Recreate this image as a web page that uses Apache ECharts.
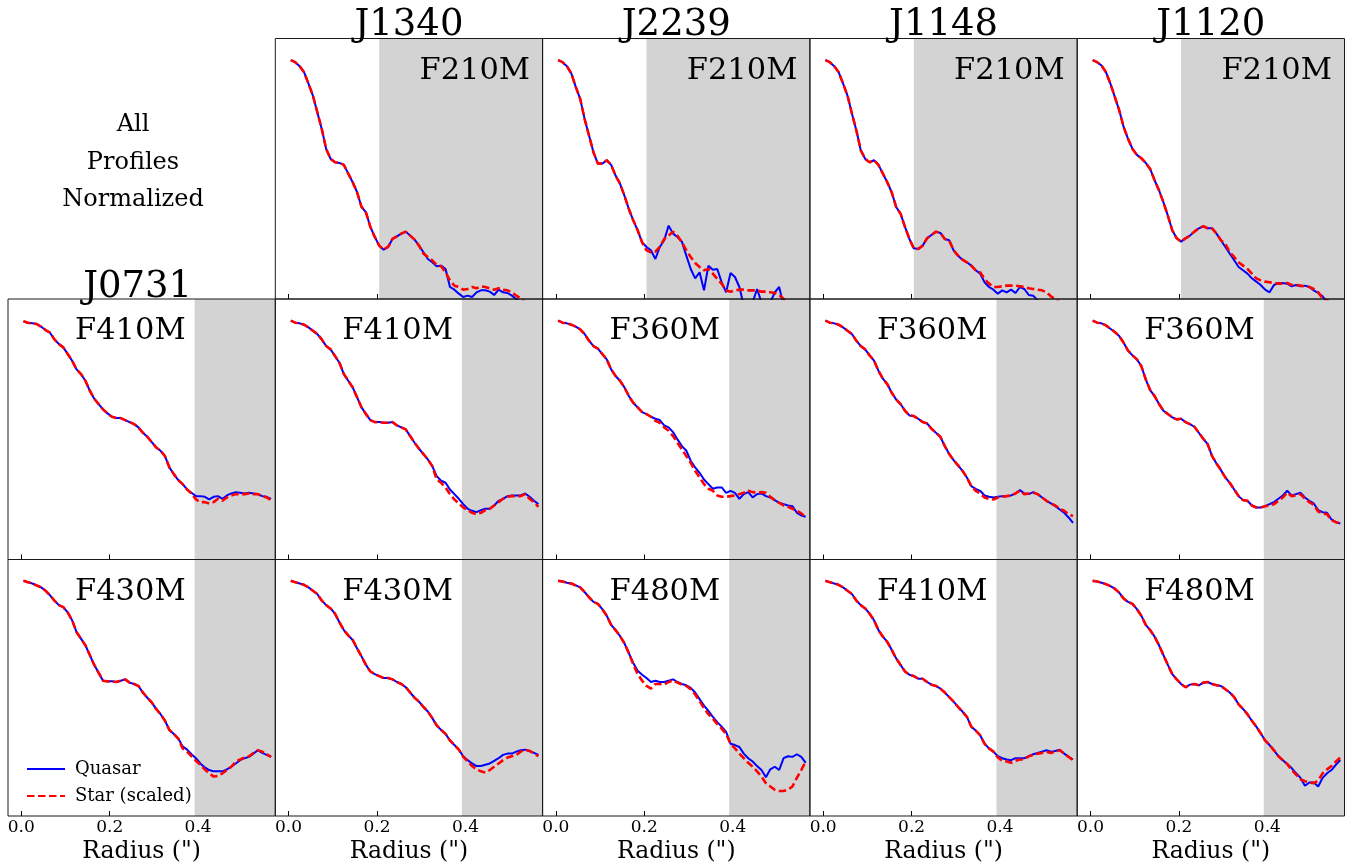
<!DOCTYPE html>
<html>
<head>
<meta charset="utf-8">
<title>All Profiles Normalized</title>
<script src="https://cdn.jsdelivr.net/npm/echarts@6/dist/echarts.min.js"></script>
<style>
  html, body { margin: 0; padding: 0; background: #fff; }
  #myChart { width: 1364px; height: 865px; }
</style>
</head>
<body>
<div id="myChart"></div>
<script>
// radius sampling (arcsec)
const radius = [0.005, 0.015, 0.025, 0.035, 0.045, 0.055, 0.065, 0.075, 0.085, 0.095,
  0.105, 0.115, 0.125, 0.135, 0.145, 0.155, 0.165, 0.175, 0.185, 0.195,
  0.205, 0.215, 0.225, 0.235, 0.245, 0.255, 0.265, 0.275, 0.285, 0.295,
  0.305, 0.315, 0.325, 0.335, 0.345, 0.355, 0.365, 0.375, 0.385, 0.395,
  0.405, 0.415, 0.425, 0.435, 0.445, 0.455, 0.465, 0.475, 0.485, 0.495,
  0.505, 0.515, 0.525, 0.535, 0.545, 0.555, 0.565];

const tickValues = [0, 0.2, 0.4];
const columnTargets = ['J1340', 'J2239', 'J1148', 'J1120'];

// log10 profiles, normalized to peak; inner part shared where both curves overlap
const innerJ1340F210M = [0.00, -0.03, -0.09, -0.18, -0.35, -0.53, -0.78, -1.03, -1.33, -1.48, -1.53, -1.54, -1.57, -1.70, -1.83, -1.98, -2.20, -2.28, -2.50, -2.65, -2.78, -2.84, -2.80, -2.68, -2.64, -2.60, -2.57, -2.63, -2.69, -2.78];
const quasarJ1340F210M = innerJ1340F210M.concat([-2.88, -2.98, -3.03, -3.09, -3.08, -3.13, -3.40, -3.44, -3.50, -3.55, -3.53, -3.55, -3.48, -3.45, -3.45, -3.47, -3.52, -3.44, -3.48, -3.49, -3.53, -3.58, -3.63, -3.70, -3.75, -3.80, -3.85]);
const starJ1340F210M = innerJ1340F210M.concat([-2.90, -2.95, -3.00, -3.07, -3.09, -3.18, -3.30, -3.38, -3.40, -3.44, -3.43, -3.40, -3.42, -3.39, -3.40, -3.42, -3.44, -3.42, -3.44, -3.45, -3.48, -3.53, -3.57, -3.63, -3.70, -3.75, -3.80]);

const innerJ2239F210M = [0.00, -0.03, -0.09, -0.20, -0.40, -0.58, -0.88, -1.13, -1.38, -1.55, -1.55, -1.50, -1.57, -1.73, -1.85, -2.03, -2.23, -2.40, -2.55, -2.73];
const quasarJ2239F210M = innerJ2239F210M.concat([-2.80, -2.85, -2.98, -2.80, -2.70, -2.48, -2.60, -2.65, -2.72, -2.93, -3.13, -3.27, -3.18, -3.45, -3.08, -3.14, -3.13, -3.33, -3.48, -3.19, -3.25, -3.40, -3.68, -3.68, -3.63, -3.43, -3.63, -3.68, -3.63, -3.48, -3.40, -3.68, -3.68, -3.70, -3.75, -3.75, -3.80]);
const starJ2239F210M = innerJ2239F210M.concat([-2.85, -2.88, -2.87, -2.80, -2.68, -2.63, -2.57, -2.63, -2.73, -2.85, -2.95, -3.04, -3.10, -3.15, -3.13, -3.20, -3.28, -3.35, -3.45, -3.47, -3.45, -3.44, -3.44, -3.45, -3.45, -3.45, -3.47, -3.47, -3.48, -3.49, -3.52, -3.58, -3.63, -3.70, -3.75, -3.80, -3.85]);

const innerJ1148F210M = [0.00, -0.03, -0.09, -0.18, -0.35, -0.53, -0.80, -1.05, -1.35, -1.48, -1.53, -1.50, -1.57, -1.70, -1.83, -1.98, -2.20, -2.30, -2.50, -2.68, -2.82, -2.83, -2.78, -2.67, -2.62, -2.57, -2.59, -2.68, -2.70, -2.85, -2.93, -2.99, -3.03, -3.08, -3.15];
const quasarJ1148F210M = innerJ1148F210M.concat([-3.20, -3.33, -3.40, -3.44, -3.50, -3.45, -3.48, -3.44, -3.49, -3.40, -3.43, -3.52, -3.53, -3.60, -3.65, -3.70, -3.74, -3.78, -3.82, -3.86, -3.90, -3.94]);
const starJ1148F210M = innerJ1148F210M.concat([-3.18, -3.28, -3.35, -3.40, -3.40, -3.39, -3.38, -3.38, -3.38, -3.39, -3.40, -3.42, -3.43, -3.44, -3.45, -3.48, -3.54, -3.58, -3.63, -3.68, -3.72, -3.77]);

const innerJ1120F210M = [0.00, -0.03, -0.08, -0.18, -0.35, -0.55, -0.75, -1.00, -1.18, -1.33, -1.42, -1.47, -1.54, -1.63, -1.80, -1.95, -2.13, -2.33, -2.55, -2.67, -2.72, -2.67, -2.63, -2.57, -2.52, -2.49, -2.52, -2.52, -2.60, -2.70];
const quasarJ1120F210M = innerJ1120F210M.concat([-2.80, -2.90, -3.00, -3.10, -3.15, -3.20, -3.27, -3.32, -3.37, -3.44, -3.48, -3.37, -3.34, -3.34, -3.35, -3.39, -3.37, -3.39, -3.38, -3.40, -3.45, -3.49, -3.54, -3.63, -3.70, -3.75, -3.80]);
const starJ1120F210M = innerJ1120F210M.concat([-2.75, -2.88, -2.95, -3.03, -3.08, -3.13, -3.20, -3.27, -3.30, -3.32, -3.33, -3.34, -3.35, -3.35, -3.34, -3.37, -3.37, -3.38, -3.39, -3.40, -3.43, -3.48, -3.57, -3.60, -3.65, -3.70, -3.75]);

const innerJ0731F410M = [-0.01, -0.03, -0.04, -0.05, -0.09, -0.14, -0.18, -0.28, -0.35, -0.40, -0.50, -0.60, -0.73, -0.80, -0.90, -1.05, -1.17, -1.25, -1.33, -1.39, -1.44, -1.46, -1.46, -1.49, -1.52, -1.55, -1.60, -1.68, -1.74, -1.82, -1.90, -1.95, -2.03, -2.20, -2.30, -2.39, -2.45, -2.53];
const quasarJ0731F410M = innerJ0731F410M.concat([-2.58, -2.63, -2.63, -2.64, -2.68, -2.64, -2.63, -2.67, -2.62, -2.59, -2.57, -2.58, -2.59, -2.58, -2.59, -2.60, -2.63, -2.64, -2.67]);
const starJ0731F410M = innerJ0731F410M.concat([-2.59, -2.68, -2.72, -2.72, -2.74, -2.72, -2.67, -2.70, -2.65, -2.62, -2.60, -2.60, -2.60, -2.59, -2.60, -2.60, -2.63, -2.65, -2.69]);

const innerJ1340F410M = [0.00, -0.03, -0.04, -0.06, -0.10, -0.15, -0.20, -0.28, -0.38, -0.43, -0.53, -0.63, -0.80, -0.90, -1.00, -1.15, -1.30, -1.40, -1.49, -1.52, -1.52, -1.53, -1.53, -1.52, -1.57, -1.60, -1.63, -1.73, -1.83, -1.92, -2.00, -2.08, -2.18];
const quasarJ1340F410M = innerJ1340F410M.concat([-2.33, -2.40, -2.43, -2.53, -2.60, -2.67, -2.75, -2.82, -2.85, -2.87, -2.84, -2.82, -2.82, -2.77, -2.70, -2.67, -2.63, -2.62, -2.62, -2.62, -2.59, -2.64, -2.70, -2.75]);
const starJ1340F410M = innerJ1340F410M.concat([-2.38, -2.43, -2.50, -2.60, -2.68, -2.74, -2.80, -2.84, -2.88, -2.90, -2.88, -2.84, -2.82, -2.77, -2.72, -2.67, -2.64, -2.63, -2.63, -2.63, -2.60, -2.67, -2.72, -2.79]);

const innerJ2239F360M = [0.00, -0.03, -0.04, -0.06, -0.09, -0.13, -0.20, -0.30, -0.38, -0.42, -0.50, -0.58, -0.73, -0.83, -0.90, -1.00, -1.13, -1.23, -1.30, -1.37, -1.40, -1.44];
const quasarJ2239F360M = innerJ2239F360M.concat([-1.47, -1.49, -1.57, -1.60, -1.67, -1.78, -1.88, -1.95, -2.10, -2.20, -2.28, -2.38, -2.45, -2.52, -2.50, -2.50, -2.58, -2.55, -2.58, -2.67, -2.60, -2.57, -2.65, -2.60, -2.59, -2.63, -2.65, -2.69, -2.73, -2.75, -2.77, -2.78, -2.88, -2.92, -2.94]);
const starJ2239F360M = innerJ2239F360M.concat([-1.50, -1.53, -1.60, -1.65, -1.73, -1.83, -1.93, -2.03, -2.13, -2.25, -2.35, -2.45, -2.52, -2.55, -2.62, -2.64, -2.64, -2.63, -2.62, -2.60, -2.58, -2.55, -2.57, -2.58, -2.57, -2.58, -2.64, -2.69, -2.73, -2.77, -2.79, -2.82, -2.85, -2.89, -2.94]);

const innerJ1148F360M = [0.00, -0.03, -0.04, -0.06, -0.10, -0.15, -0.20, -0.30, -0.38, -0.43, -0.52, -0.60, -0.75, -0.87, -0.95, -1.08, -1.18, -1.25, -1.35, -1.42, -1.43, -1.47, -1.52, -1.54, -1.62, -1.68, -1.74, -1.88, -2.00, -2.09, -2.17, -2.25, -2.35, -2.48];
const quasarJ1148F360M = innerJ1148F360M.concat([-2.52, -2.55, -2.62, -2.64, -2.65, -2.64, -2.63, -2.63, -2.62, -2.59, -2.54, -2.59, -2.60, -2.57, -2.60, -2.65, -2.70, -2.74, -2.78, -2.83, -2.88, -2.95, -3.03]);
const starJ1148F360M = innerJ1148F360M.concat([-2.55, -2.59, -2.65, -2.67, -2.68, -2.65, -2.64, -2.63, -2.62, -2.59, -2.55, -2.60, -2.59, -2.58, -2.60, -2.65, -2.70, -2.74, -2.77, -2.82, -2.85, -2.90, -2.93]);

const innerJ1120F360M = [0.00, -0.03, -0.04, -0.07, -0.12, -0.17, -0.23, -0.33, -0.45, -0.52, -0.58, -0.68, -0.88, -1.04, -1.13, -1.25, -1.35, -1.40, -1.45, -1.48, -1.47, -1.52, -1.55, -1.59, -1.68, -1.77, -1.85, -2.03, -2.14, -2.24, -2.35, -2.43, -2.53, -2.63, -2.69, -2.70, -2.77, -2.80, -2.80, -2.78];
const quasarJ1120F360M = innerJ1120F360M.concat([-2.75, -2.72, -2.67, -2.62, -2.55, -2.62, -2.60, -2.58, -2.65, -2.70, -2.74, -2.84, -2.87, -2.88, -2.98, -3.02, -3.04]);
const starJ1120F360M = innerJ1120F360M.concat([-2.77, -2.75, -2.70, -2.65, -2.58, -2.63, -2.62, -2.60, -2.67, -2.72, -2.76, -2.86, -2.89, -2.90, -2.99, -3.02, -3.04]);

const innerJ0731F430M = [0.00, -0.02, -0.04, -0.07, -0.10, -0.15, -0.22, -0.30, -0.37, -0.40, -0.48, -0.60, -0.78, -0.88, -0.98, -1.13, -1.28, -1.40, -1.52, -1.53, -1.53, -1.54, -1.52, -1.50, -1.55, -1.57, -1.60, -1.70, -1.78, -1.85, -1.95, -2.03, -2.13, -2.27, -2.33, -2.40];
const quasarJ0731F430M = innerJ0731F430M.concat([-2.52, -2.57, -2.64, -2.70, -2.78, -2.84, -2.88, -2.90, -2.90, -2.90, -2.87, -2.83, -2.78, -2.73, -2.70, -2.68, -2.63, -2.58, -2.62, -2.65, -2.68]);
const starJ0731F430M = innerJ0731F430M.concat([-2.55, -2.60, -2.67, -2.74, -2.80, -2.87, -2.93, -2.98, -2.97, -2.93, -2.88, -2.83, -2.75, -2.72, -2.69, -2.67, -2.62, -2.58, -2.60, -2.64, -2.68]);

const innerJ1340F430M = [0.00, -0.02, -0.04, -0.06, -0.10, -0.15, -0.20, -0.30, -0.37, -0.42, -0.50, -0.63, -0.75, -0.83, -0.90, -1.03, -1.15, -1.28, -1.38, -1.42, -1.45, -1.48, -1.48, -1.50, -1.54, -1.57, -1.62, -1.70, -1.78, -1.84, -1.92, -1.99, -2.09, -2.20, -2.27, -2.33, -2.43, -2.50, -2.57];
const quasarJ1340F430M = innerJ1340F430M.concat([-2.67, -2.73, -2.78, -2.82, -2.82, -2.80, -2.78, -2.74, -2.70, -2.65, -2.63, -2.63, -2.60, -2.58, -2.57, -2.59, -2.62, -2.65]);
const starJ1340F430M = innerJ1340F430M.concat([-2.68, -2.75, -2.82, -2.87, -2.90, -2.92, -2.88, -2.83, -2.78, -2.73, -2.69, -2.67, -2.65, -2.60, -2.57, -2.59, -2.63, -2.67]);

const innerJ2239F480M = [0.00, -0.01, -0.03, -0.04, -0.07, -0.10, -0.17, -0.25, -0.32, -0.35, -0.43, -0.53, -0.67, -0.75, -0.84, -0.95, -1.10];
const quasarJ2239F480M = innerJ2239F480M.concat([-1.25, -1.37, -1.43, -1.48, -1.54, -1.52, -1.54, -1.54, -1.52, -1.50, -1.54, -1.57, -1.59, -1.63, -1.70, -1.80, -1.90, -1.98, -2.07, -2.15, -2.22, -2.30, -2.48, -2.50, -2.53, -2.63, -2.70, -2.75, -2.82, -2.88, -2.99, -2.87, -2.83, -2.88, -2.70, -2.67, -2.68, -2.64, -2.68, -2.77]);
const starJ2239F480M = innerJ2239F480M.concat([-1.27, -1.42, -1.52, -1.60, -1.64, -1.57, -1.57, -1.58, -1.54, -1.52, -1.55, -1.58, -1.60, -1.65, -1.73, -1.83, -1.94, -2.03, -2.10, -2.18, -2.25, -2.33, -2.48, -2.55, -2.63, -2.70, -2.77, -2.83, -2.90, -2.98, -3.08, -3.13, -3.18, -3.20, -3.20, -3.18, -3.13, -3.00, -2.88, -2.75]);

const innerJ1148F410M = [0.00, -0.02, -0.04, -0.06, -0.10, -0.15, -0.20, -0.30, -0.37, -0.42, -0.50, -0.60, -0.75, -0.85, -0.93, -1.05, -1.18, -1.28, -1.38, -1.43, -1.45, -1.49, -1.49, -1.54, -1.58, -1.60, -1.64, -1.70, -1.77, -1.84, -1.92, -1.99, -2.07, -2.22, -2.28, -2.35, -2.48, -2.55, -2.60];
const quasarJ1148F410M = innerJ1148F410M.concat([-2.67, -2.70, -2.72, -2.73, -2.70, -2.70, -2.70, -2.67, -2.64, -2.62, -2.60, -2.58, -2.60, -2.59, -2.57, -2.63, -2.68, -2.72]);
const starJ1148F410M = innerJ1148F410M.concat([-2.69, -2.74, -2.75, -2.77, -2.74, -2.72, -2.72, -2.67, -2.65, -2.63, -2.62, -2.60, -2.62, -2.60, -2.58, -2.63, -2.68, -2.73]);

const innerJ1120F480M = [0.00, -0.01, -0.03, -0.05, -0.08, -0.12, -0.18, -0.27, -0.32, -0.35, -0.43, -0.53, -0.67, -0.75, -0.85, -0.98, -1.13, -1.28, -1.42, -1.50, -1.57, -1.62, -1.58, -1.57, -1.59, -1.55, -1.54, -1.57, -1.59, -1.60, -1.65, -1.70, -1.77, -1.88, -1.95, -2.03, -2.13, -2.22, -2.32, -2.43, -2.50, -2.58, -2.67, -2.73, -2.79];
const quasarJ1120F480M = innerJ1120F480M.concat([-2.85, -2.93, -3.00, -3.12, -3.07, -3.07, -3.13, -3.00, -2.93, -2.88, -2.80, -2.73]);
const starJ1120F480M = innerJ1120F480M.concat([-2.88, -2.95, -3.02, -3.05, -3.07, -3.08, -3.04, -2.93, -2.87, -2.82, -2.75, -2.69]);

// shaded region starts (arcsec): row 0 vs rows 1-2
const shadeStart = [0.205, 0.392, 0.392];

const panels = [
  { row: 0, col: 1, filter: 'F210M', quasar: quasarJ1340F210M, star: starJ1340F210M },
  { row: 0, col: 2, filter: 'F210M', quasar: quasarJ2239F210M, star: starJ2239F210M },
  { row: 0, col: 3, filter: 'F210M', quasar: quasarJ1148F210M, star: starJ1148F210M },
  { row: 0, col: 4, filter: 'F210M', quasar: quasarJ1120F210M, star: starJ1120F210M },
  { row: 1, col: 0, filter: 'F410M', quasar: quasarJ0731F410M, star: starJ0731F410M },
  { row: 1, col: 1, filter: 'F410M', quasar: quasarJ1340F410M, star: starJ1340F410M },
  { row: 1, col: 2, filter: 'F360M', quasar: quasarJ2239F360M, star: starJ2239F360M },
  { row: 1, col: 3, filter: 'F360M', quasar: quasarJ1148F360M, star: starJ1148F360M },
  { row: 1, col: 4, filter: 'F360M', quasar: quasarJ1120F360M, star: starJ1120F360M },
  { row: 2, col: 0, filter: 'F430M', quasar: quasarJ0731F430M, star: starJ0731F430M },
  { row: 2, col: 1, filter: 'F430M', quasar: quasarJ1340F430M, star: starJ1340F430M },
  { row: 2, col: 2, filter: 'F480M', quasar: quasarJ2239F480M, star: starJ2239F480M },
  { row: 2, col: 3, filter: 'F410M', quasar: quasarJ1148F410M, star: starJ1148F410M },
  { row: 2, col: 4, filter: 'F480M', quasar: quasarJ1120F480M, star: starJ1120F480M }
];

const FONT = 'DejaVu Serif';
const colLeft = [8, 275.3, 542.6, 809.9, 1077.2];
const rowTop = [38.5, 299, 559.5];
const W = 267.3, H = 260.5;
const xMin = -0.03, xMax = 0.5745;
const yMin = -3.58, yMax = 0.325;

const chartDom = document.getElementById('myChart');
const myChart = echarts.init(chartDom);

const grid = [], xAxis = [], yAxis = [], series = [], graphic = [];

panels.forEach((p, k) => {
  const left = colLeft[p.col], top = rowTop[p.row];
  const bottomRow = p.row === 2;
  grid.push({ left: left, top: top, width: W, height: H, show: true, z: 8,
    borderColor: '#1a1a1a', borderWidth: 1, backgroundColor: 'transparent' });
  xAxis.push({
    gridIndex: k, type: 'value', min: xMin, max: xMax, position: 'bottom',
    axisLine: { show: false, onZero: false },
    axisTick: { show: true, inside: true, length: 5, customValues: tickValues, lineStyle: { color: '#000' } },
    axisLabel: { show: bottomRow, customValues: tickValues, margin: 3,
      formatter: v => v.toFixed(1), fontFamily: FONT, fontSize: 17, color: '#000' },
    splitLine: { show: false },
    name: bottomRow ? 'Radius (")' : '',
    nameLocation: 'middle', nameGap: 24,
    nameTextStyle: { fontFamily: FONT, fontSize: 23.5, color: '#000' }
  });
  yAxis.push({ gridIndex: k, type: 'value', min: yMin, max: yMax, show: false });

  series.push({
    name: 'Quasar', type: 'line', xAxisIndex: k, yAxisIndex: k,
    data: radius.map((r, i) => [r, p.quasar[i]]),
    symbol: 'none', showSymbol: false, z: 3, clip: true,
    lineStyle: { color: '#0000ff', width: 2 }, itemStyle: { color: '#0000ff' },
    markArea: { silent: true, itemStyle: { color: '#d3d3d3' },
      data: [[{ xAxis: shadeStart[p.row] }, { xAxis: xMax }]] }
  });
  series.push({
    name: 'Star (scaled)', type: 'line', xAxisIndex: k, yAxisIndex: k,
    data: radius.map((r, i) => [r, p.star[i]]),
    symbol: 'none', showSymbol: false, z: 4, clip: true,
    lineStyle: { color: '#ff0000', width: 2.6, type: [7.5, 3.5] }, itemStyle: { color: '#ff0000' }
  });

  // filter label
  if (p.row === 0) {
    graphic.push({ type: 'text', x: left + W - 12.5, y: top + 32.5, z: 20,
      style: { text: p.filter, font: '30.5px "' + FONT + '"', fill: '#000', textAlign: 'right', textVerticalAlign: 'middle' } });
  } else {
    graphic.push({ type: 'text', x: left + 67, y: top + 32.5, z: 20,
      style: { text: p.filter, font: '30.5px "' + FONT + '"', fill: '#000', textAlign: 'left', textVerticalAlign: 'middle' } });
  }
});

// column titles
columnTargets.forEach((t, i) => {
  graphic.push({ type: 'text', x: colLeft[i + 1] + W / 2, y: 25.5, z: 20,
    style: { text: t, font: '37px "' + FONT + '"', fill: '#000', textAlign: 'center', textVerticalAlign: 'middle' } });
});
graphic.push({ type: 'text', x: colLeft[0] + W / 2 - 4, y: 287, z: 20,
  style: { text: 'J0731', font: '37px "' + FONT + '"', fill: '#000', textAlign: 'center', textVerticalAlign: 'middle' } });
graphic.push({ type: 'text', x: 133, y: 162.5, z: 20,
  style: { text: 'All\nProfiles\nNormalized', font: '24px "' + FONT + '"', lineHeight: 37.5,
    fill: '#000', textAlign: 'center', textVerticalAlign: 'middle' } });

const option = {
  animation: false,
  backgroundColor: '#fff',
  grid: grid,
  xAxis: xAxis,
  yAxis: yAxis,
  series: series,
  graphic: graphic,
  legend: {
    data: ['Quasar', 'Star (scaled)'],
    orient: 'vertical', left: 21, top: 755,
    itemWidth: 38, itemHeight: 14, itemGap: 9,
    itemStyle: { opacity: 0 },
    textStyle: { fontFamily: FONT, fontSize: 18, color: '#000', padding: [0, 0, 0, 5] }
  }
};

myChart.setOption(option);
window.addEventListener('resize', () => myChart.resize());
</script>
</body>
</html>
